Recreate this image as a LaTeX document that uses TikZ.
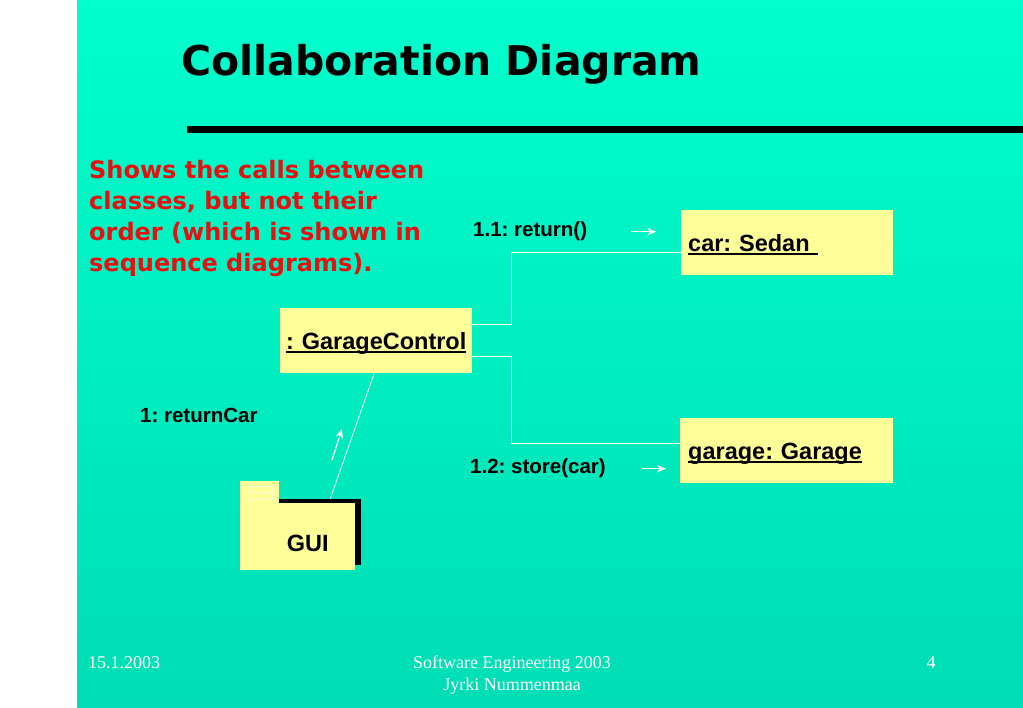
\documentclass[tikz,border=0pt]{standalone}
\usepackage{fontspec}
\setmainfont{Liberation Serif}
\setsansfont{Liberation Sans}
\newfontfamily\headfont{DejaVu Sans}
\usepackage{tikz}
\usetikzlibrary{arrows.meta}
\definecolor{slidetop}{RGB}{0,255,204}
\definecolor{slidebot}{RGB}{0,221,180}
\definecolor{objyellow}{RGB}{255,255,153}
\definecolor{slidered}{RGB}{230,16,16}
\newsavebox{\namebox}
\newcommand{\objname}[1]{\sbox{\namebox}{#1}\rlap{\rule[-3.6pt]{\wd\namebox}{1.8pt}}\usebox{\namebox}}
\frenchspacing

\begin{document}
\begin{tikzpicture}[x=1pt, y=-1pt, >=Stealth,
  objbox/.style={rectangle, fill=objyellow, anchor=north west, minimum height=65pt,
    inner xsep=7pt, inner ysep=0pt, align=left, text height=17pt, text depth=0pt,
    font=\sffamily\bfseries\fontsize{23.5}{28}\selectfont},
  msglabel/.style={anchor=base west, inner sep=0pt, font=\sffamily\bfseries\fontsize{20.5}{24}\selectfont},
  conn/.style={white, line width=0.8pt},
  msg/.style={white, line width=1.2pt, -{Stealth[length=9pt,width=7.5pt]}},
  foot/.style={white, inner sep=0pt, font=\fontsize{18}{22}\selectfont}]
  \useasboundingbox (0,0) rectangle (1023,708);
  % Slide background
  \fill[white] (0,0) rectangle (1023,708);
  \shade[top color=slidetop, bottom color=slidebot] (77,0) rectangle (1023,708);
  \node[anchor=base west, inner sep=0pt, font=\headfont\bfseries\fontsize{41}{48}\selectfont]
    (title) at (181,76) {Collaboration Diagram};
  \fill[black] (187,126) rectangle (1023,133);
  \node[anchor=north west, inner sep=0pt, align=left, slidered,
        font=\headfont\bfseries\fontsize{24}{31}\selectfont] (note) at (89,160)
    {Shows the calls between\\classes, but not their\\order (which is shown in\\sequence diagrams).};
  % Objects
  \node[objbox, text width=198pt] (sedan) at (681,210) {\objname{car: Sedan\ }};
  \node[objbox, text width=197pt, inner xsep=8pt] (garage) at (680,418) {\objname{garage: Garage}};
  \node[objbox, text width=180pt, inner xsep=6pt] (ctrl) at (280,308) {\objname{: GarageControl}};
  % GUI package
  \fill[black] (246,499) rectangle (361,565);
  \fill[objyellow] (240,481) rectangle (279,503);
  \draw[white!55!objyellow, line width=0.6pt] (245,486) rectangle (272,499) (245,492) -- (272,492);
  \node[rectangle, fill=objyellow, anchor=north west, minimum width=115pt, minimum height=67pt,
        inner sep=0pt] (gui) at (240,503) {};
  \node[font=\sffamily\bfseries\fontsize{23.5}{28}\selectfont, inner sep=0pt, text height=17pt,
        text depth=0pt] (guiname) at ([shift={(10pt,-6.5pt)}]gui.center) {GUI};
  % Links
  \draw[conn] ([yshift=16.5pt]ctrl.east) -- ++(39,0) |- ([yshift=-10pt]sedan.west);
  \draw[conn] ([yshift=-15.5pt]ctrl.east) -- ++(39,0) |- ([yshift=7.5pt]garage.west);
  \draw[conn] ([shift={(32.5pt,4pt)}]gui.north) -- ([xshift=-2pt]ctrl.south);
  % Messages
  \node[msglabel] (ret) at (473,237) {1.1: return()};
  \node[msglabel] (store) at (470,474) {1.2: store(car)};
  \node[msglabel] (retcar) at (140,423) {1: returnCar};
  \draw[msg] ([xshift=44pt]ret.east) -- ++(25,0);
  \draw[msg] ([xshift=36pt]store.east) -- ++(24,0);
  \draw[msg] (332,460) -- (342,429);
  % Footer
  \node[foot, anchor=base west] (date) at (88,668) {15.1.2003};
  \node[foot, anchor=base] (course) at (512,668) {Software Engineering 2003};
  \node[foot, anchor=base] (author) at (512,690) {Jyrki Nummenmaa};
  \node[foot, anchor=base] (page) at (931,668) {4};
\end{tikzpicture}
\end{document}
